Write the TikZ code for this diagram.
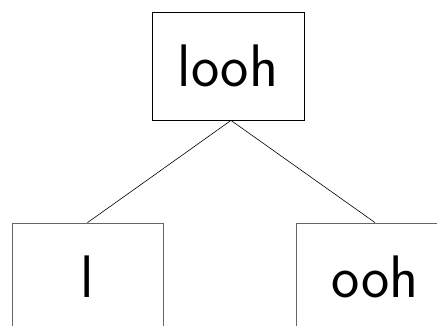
\documentclass[tikz,border=0pt]{standalone}
\usepackage{tikz}
\usetikzlibrary{positioning}
\tikzset{
  word/.style={draw, line width=0.8pt, inner sep=0pt, minimum height=108pt, minimum width=152pt, font=\fontsize{60}{72}\selectfont\sffamily},
  part/.style={word, draw=black!60},
}

\begin{document}
\begin{tikzpicture}[x=1pt, y=-1pt]
  \useasboundingbox (0,0) rectangle (437,325);
  \clip (0,0) rectangle (437,325);
  \node[word] (whole) at (228,66) {looh};
  \node[part, minimum width=151pt] (onset) at (87.5,277) {l};
  \node[part, minimum width=158pt] (rime) at (375,277) {ooh};
  \draw[line width=0.6pt] ([xshift=3pt]whole.south) -- (onset.north);
  \draw[line width=0.6pt] ([xshift=3pt]whole.south) -- (rime.north);
\end{tikzpicture}
\end{document}
